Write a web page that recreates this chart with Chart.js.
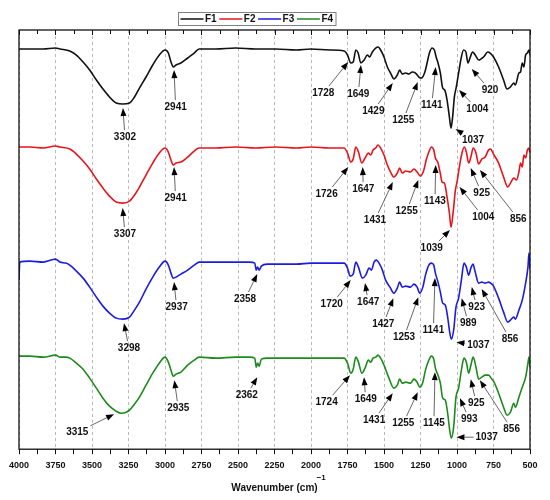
<!DOCTYPE html>
<html>
<head>
<meta charset="utf-8">
<script src="https://cdn.jsdelivr.net/npm/chart.js@4.4.0/dist/chart.umd.min.js"></script>
<style>
  html, body { margin: 0; padding: 0; background: #fff; }
</style>
</head>
<body>
<canvas id="ftir" width="550" height="500"></canvas>
<script>
// FTIR spectra, four formulations stacked with an offset (arbitrary units)
const seriesNames = ['F1', 'F2', 'F3', 'F4'];
const seriesColors = ['#111111', '#e8141b', '#1c1ce0', '#1d8a1d'];

// [wavenumber (cm-1), signal]
const f1Points = [
  [4000,400],[3925,400],[3834,400],[3750,401],[3720,400],[3652,398],[3607,394],[3561,387],[3516,379],[3470,369],
  [3425,360],[3380,352],[3334,346],[3289,345],[3243,346],[3209,352],[3175,361],[3130,372],[3084,384],[3039,394],
  [3000,399],[2977,396],[2959,387],[2943,382],[2925,384],[2891,386],[2845,391],[2800,396],[2766,400],[2652,400],
  [2516,401],[2380,400],[2243,400],[2100,399],[2000,400],[1875,399],[1773,398],[1750,394],[1727,386],[1711,387],
  [1693,399],[1677,396],[1659,386],[1636,389],[1614,394],[1598,392],[1580,397],[1557,401],[1539,402],[1523,399],
  [1500,392],[1477,382],[1455,376],[1432,370],[1409,374],[1393,379],[1375,375],[1352,376],[1330,375],[1307,377],
  [1284,376],[1261,372],[1243,371],[1220,377],[1205,386],[1189,396],[1170,401],[1155,399],[1143,392],[1130,386],
  [1114,376],[1098,361],[1084,359],[1068,349],[1052,332],[1041,321],[1030,332],[1018,352],[1005,362],[989,376],
  [970,392],[955,399],[939,397],[925,386],[909,392],[893,397],[875,394],[852,389],[818,392],[789,397],
  [773,396],[750,392],[715,382],[681,369],[657,360],[634,362],[611,366],[600,364],[576,376],[565,377],
  [553,386],[542,382],[530,394],[518,396],[507,399],[500,394]
];
const f2Points = [
  [4000,302],[3925,302],[3834,301],[3750,303],[3720,302],[3652,300],[3607,295],[3561,288],[3516,280],[3470,270],
  [3425,261],[3380,253],[3334,247],[3289,246],[3243,248],[3209,254],[3175,262],[3130,274],[3084,286],[3039,296],
  [3000,301],[2977,297],[2959,289],[2943,284],[2925,286],[2891,287],[2845,292],[2800,298],[2766,301],[2652,301],
  [2516,302],[2380,301],[2243,302],[2100,301],[2000,302],[1875,301],[1773,301],[1750,296],[1727,287],[1711,290],
  [1693,302],[1675,297],[1652,286],[1630,291],[1607,296],[1591,294],[1575,299],[1557,301],[1541,304],[1523,301],
  [1500,294],[1477,284],[1455,277],[1432,272],[1409,276],[1393,281],[1375,276],[1352,278],[1318,277],[1295,280],
  [1273,277],[1250,273],[1227,279],[1211,289],[1193,297],[1175,302],[1159,299],[1148,291],[1132,287],[1116,277],
  [1102,267],[1086,266],[1068,252],[1052,236],[1041,222],[1027,236],[1011,259],[1000,267],[984,282],[966,296],
  [950,302],[936,297],[920,286],[905,292],[889,301],[870,296],[852,285],[830,290],[807,292],[784,299],
  [770,300],[750,295],[715,286],[681,272],[652,262],[634,266],[611,271],[593,269],[576,277],[565,286],
  [553,282],[542,294],[530,291],[518,299],[507,301],[502,297],[500,299]
];
const f3Points = [
  [4000,169],[3995,187],[3925,188],[3834,187],[3750,190],[3720,187],[3680,186],[3652,184],[3607,178],[3561,171],
  [3516,162],[3470,152],[3425,143],[3380,136],[3334,131],[3289,130],[3243,132],[3209,139],[3175,147],[3130,160],
  [3084,172],[3039,182],[3000,188],[2977,184],[2959,176],[2943,171],[2925,172],[2891,175],[2845,179],[2800,184],
  [2766,187],[2652,187],[2516,187],[2420,187],[2385,186],[2375,179],[2366,182],[2355,179],[2340,183],[2300,185],
  [2243,185],[2100,185],[2000,186],[1875,186],[1773,186],[1750,181],[1732,173],[1711,175],[1693,187],[1675,182],
  [1648,171],[1625,174],[1602,181],[1586,179],[1568,187],[1552,189],[1534,186],[1511,179],[1489,169],[1459,162],
  [1432,156],[1409,161],[1393,167],[1375,162],[1352,163],[1318,162],[1295,165],[1273,162],[1255,156],[1234,162],
  [1216,174],[1193,184],[1175,186],[1159,184],[1148,176],[1130,167],[1114,157],[1098,146],[1080,144],[1064,132],
  [1050,117],[1039,110],[1023,119],[1007,142],[989,151],[970,169],[952,186],[936,182],[920,174],[905,181],
  [891,185],[875,177],[852,166],[830,167],[807,166],[784,167],[761,165],[750,163],[715,151],[681,137],
  [652,127],[634,129],[611,132],[600,130],[576,139],[553,149],[530,166],[514,182],[507,196],[502,186],[500,180]
];
const f4Points = [
  [4000,93],[3925,93],[3834,92],[3750,94],[3720,92],[3680,92],[3652,91],[3607,86],[3561,80],[3516,71],
  [3470,61],[3425,51],[3380,43],[3334,38],[3300,36],[3266,37],[3243,39],[3209,45],[3175,52],[3130,64],
  [3084,76],[3039,86],[3000,92],[2977,87],[2959,79],[2943,73],[2925,75],[2891,77],[2845,84],[2800,89],
  [2766,92],[2652,91],[2516,92],[2420,92],[2385,91],[2375,82],[2366,86],[2355,83],[2340,90],[2300,91],
  [2243,91],[2100,91],[2000,91],[1875,91],[1773,91],[1750,86],[1727,76],[1711,80],[1693,92],[1675,87],
  [1652,76],[1630,81],[1607,89],[1591,87],[1575,91],[1557,92],[1541,94],[1523,91],[1500,84],[1466,71],
  [1432,61],[1409,64],[1393,70],[1375,66],[1352,67],[1318,66],[1295,70],[1273,67],[1255,62],[1234,67],
  [1216,79],[1193,89],[1175,93],[1159,90],[1148,81],[1130,74],[1114,66],[1098,51],[1080,49],[1064,36],
  [1050,19],[1039,11],[1023,22],[1007,52],[989,61],[970,79],[952,91],[936,87],[920,76],[905,84],
  [889,92],[870,82],[852,70],[830,72],[807,74],[784,74],[761,70],[750,68],[715,56],[681,42],
  [657,34],[634,37],[611,46],[600,42],[576,52],[553,62],[530,72],[514,86],[507,92],[500,82]
];

// peak labels: text, arrow tip [wavenumber, signal], label centre [wavenumber, signal]
const peakLabels = [
  { text: '3302', tip: [3288, 341], at: [3274, 312] },
  { text: '2941', tip: [2938, 379], at: [2927, 342] },
  { text: '1728', tip: [1745, 387], at: [1916, 356] },
  { text: '1649', tip: [1658, 384], at: [1676, 355] },
  { text: '1429', tip: [1440, 366], at: [1573, 338] },
  { text: '1255', tip: [1269, 367], at: [1368, 329] },
  { text: '1141', tip: [1146, 382], at: [1173, 344] },
  { text: '1037', tip: [1010, 320], at: [890, 309] },
  { text: '1004', tip: [986, 359], at: [861, 340] },
  { text: '920',  tip: [899, 380],  at: [774, 359] },

  { text: '3307', tip: [3290, 241], at: [3274, 215] },
  { text: '2941', tip: [2938, 282], at: [2927, 251] },
  { text: '1726', tip: [1745, 282], at: [1893, 255] },
  { text: '1647', tip: [1646, 282], at: [1642, 260] },
  { text: '1431', tip: [1440, 267], at: [1562, 229] },
  { text: '1255', tip: [1265, 269], at: [1345, 238] },
  { text: '1143', tip: [1146, 284], at: [1151, 248] },
  { text: '1039', tip: [1048, 219], at: [1173, 201] },
  { text: '1004', tip: [982, 262],  at: [820, 232] },
  { text: '925',  tip: [906, 281],  at: [831, 256] },
  { text: '856',  tip: [843, 279],  at: [580, 230] },

  { text: '3298', tip: [3281, 126], at: [3247, 101] },
  { text: '2937', tip: [2938, 167], at: [2920, 142] },
  { text: '2358', tip: [2368, 175], at: [2452, 150] },
  { text: '1720', tip: [1728, 169], at: [1858, 145] },
  { text: '1647', tip: [1630, 166], at: [1608, 147] },
  { text: '1427', tip: [1436, 151], at: [1505, 125] },
  { text: '1253', tip: [1265, 152], at: [1363, 112] },
  { text: '1141', tip: [1151, 171], at: [1162, 119] },
  { text: '1037', tip: [1004, 107], at: [854, 104] },
  { text: '989',  tip: [968, 151],  at: [923, 126] },
  { text: '923',  tip: [899, 162],  at: [865, 142] },
  { text: '856',  tip: [831, 160],  at: [637, 110] },

  { text: '3315', tip: [3349, 35],  at: [3601, 17] },
  { text: '2935', tip: [2936, 69],  at: [2909, 41] },
  { text: '2362', tip: [2368, 72],  at: [2440, 54] },
  { text: '1724', tip: [1733, 74],  at: [1893, 47] },
  { text: '1649', tip: [1637, 72],  at: [1625, 50] },
  { text: '1431', tip: [1440, 56],  at: [1568, 29] },
  { text: '1255', tip: [1269, 57],  at: [1368, 26] },
  { text: '1145', tip: [1151, 77],  at: [1158, 26] },
  { text: '1037', tip: [1004, 12],  at: [797, 12] },
  { text: '993',  tip: [980, 51],   at: [916, 30] },
  { text: '925',  tip: [906, 70],   at: [868, 46] },
  { text: '856',  tip: [843, 69],   at: [626, 20] }
];

const labelFont = 'bold 10px "Liberation Sans", Arial, sans-serif';

// arrows + peak numbers
const peakArrows = {
  id: 'peakArrows',
  afterDatasetsDraw(chart) {
    const { ctx } = chart;
    const x = chart.scales.x, y = chart.scales.y;
    ctx.save();
    ctx.font = labelFont;
    ctx.textAlign = 'center';
    ctx.textBaseline = 'middle';
    peakLabels.forEach(p => {
      const tx = x.getPixelForValue(p.tip[0]), ty = y.getPixelForValue(p.tip[1]);
      const lx = x.getPixelForValue(p.at[0]), ly = y.getPixelForValue(p.at[1]);
      const hw = ctx.measureText(p.text).width / 2 + 2, hh = 7;
      const dx = tx - lx, dy = ty - ly;
      const s = Math.min(hw / Math.max(Math.abs(dx), 1e-6), hh / Math.max(Math.abs(dy), 1e-6));
      const sx = lx + dx * s, sy = ly + dy * s;
      const ang = Math.atan2(ty - sy, tx - sx);
      const head = 8, half = 3;
      const bx = tx - Math.cos(ang) * head, by = ty - Math.sin(ang) * head;
      ctx.strokeStyle = '#555';
      ctx.lineWidth = 0.9;
      ctx.beginPath();
      ctx.moveTo(sx, sy);
      ctx.lineTo(bx, by);
      ctx.stroke();
      ctx.fillStyle = '#000';
      ctx.beginPath();
      ctx.moveTo(tx, ty);
      ctx.lineTo(bx - Math.sin(ang) * half, by + Math.cos(ang) * half);
      ctx.lineTo(bx + Math.sin(ang) * half, by - Math.cos(ang) * half);
      ctx.closePath();
      ctx.fill();
      ctx.fillStyle = '#111';
      ctx.fillText(p.text, lx, ly + 0.5);
    });
    ctx.restore();
  }
};

// box frame, inner top ticks, legend box and the -1 exponent
const decorations = {
  id: 'decorations',
  afterDraw(chart) {
    const { ctx, chartArea: a } = chart;
    const x = chart.scales.x;
    ctx.save();
    ctx.strokeStyle = '#111';
    ctx.lineWidth = 1;
    x.ticks.forEach(t => {
      const px = Math.round(x.getPixelForValue(t.value)) + 0.5;
      ctx.beginPath();
      ctx.moveTo(px, a.top);
      ctx.lineTo(px, a.top + (t.value % 250 === 0 ? 5 : 4));
      ctx.stroke();
    });
    ctx.lineWidth = 1.3;
    ctx.strokeRect(a.left, a.top, a.right - a.left, a.bottom - a.top);

    // legend
    ctx.lineWidth = 1;
    ctx.strokeStyle = '#808080';
    ctx.strokeRect(178.5, 12.5, 157.5, 13);
    ctx.font = 'bold 10px "Liberation Sans", Arial, sans-serif';
    ctx.textBaseline = 'middle';
    ctx.textAlign = 'left';
    seriesNames.forEach((name, i) => {
      const x0 = 180.5 + i * 38.8;
      ctx.strokeStyle = seriesColors[i];
      ctx.lineWidth = 1.5;
      ctx.beginPath();
      ctx.moveTo(x0, 19);
      ctx.lineTo(x0 + 23, 19);
      ctx.stroke();
      ctx.fillStyle = '#111';
      ctx.fillText(name, x0 + 24.5, 19.5);
    });

    // exponent of the axis title
    ctx.font = 'bold 10px "Liberation Sans", Arial, sans-serif';
    const titleW = ctx.measureText(x.options.title.text).width;
    const cx = (a.left + a.right) / 2;
    ctx.font = 'bold 8px "Liberation Sans", Arial, sans-serif';
    ctx.fillStyle = '#111';
    ctx.fillText('\u22121', cx + titleW / 2 - 1, 478);
    ctx.restore();
  }
};

new Chart(document.getElementById('ftir'), {
  type: 'line',
  data: {
    datasets: [f1Points, f2Points, f3Points, f4Points].map((pts, i) => ({
      label: seriesNames[i],
      data: pts.map(([w, s]) => ({ x: w, y: s })),
      borderColor: seriesColors[i],
      backgroundColor: seriesColors[i],
      borderWidth: 1.6,
      pointRadius: 0,
      cubicInterpolationMode: 'monotone',
      fill: false
    }))
  },
  options: {
    responsive: false,
    animation: false,
    layout: { padding: { left: 19, right: 20, top: 30, bottom: 6 } },
    plugins: {
      legend: { display: false },
      tooltip: { enabled: false }
    },
    scales: {
      x: {
        type: 'linear',
        reverse: true,
        min: 500,
        max: 4000,
        ticks: {
          stepSize: 125,
          autoSkip: false,
          maxRotation: 0,
          padding: 6,
          color: '#111',
          font: { family: '"Liberation Sans", Arial, sans-serif', size: 9, weight: 'bold' },
          callback: v => (v % 250 === 0 ? v : '')
        },
        grid: {
          color: c => (c.tick && c.tick.value % 250 === 0 ? '#a8a8a8' : 'rgba(0,0,0,0)'),
          lineWidth: 0.8,
          tickColor: '#111',
          tickLength: 5,
          tickWidth: 1,
          tickBorderDash: []
        },
        border: { display: false, dash: [3, 3] },
        title: {
          display: true,
          text: 'Wavenumber (cm)',
          color: '#111',
          font: { family: '"Liberation Sans", Arial, sans-serif', size: 10, weight: 'bold' },
          padding: { top: 5, bottom: 0 }
        }
      },
      y: { display: false, min: 0, max: 419 }
    }
  },
  plugins: [peakArrows, decorations]
});
</script>
</body>
</html>
